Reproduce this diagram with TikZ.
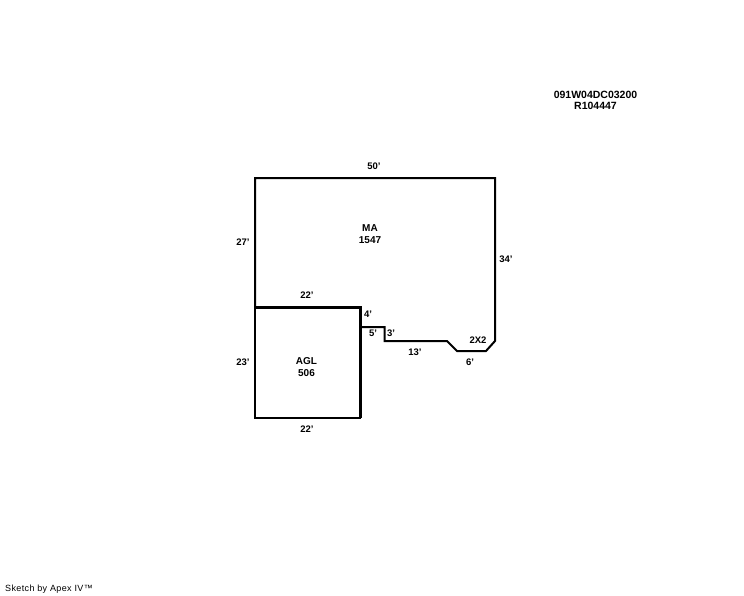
\documentclass[tikz,border=0pt]{standalone}
\usepackage{fontspec}
\setmainfont{Liberation Sans}
\newfontfamily\widefont[LetterSpace=4]{Liberation Sans}
\tikzset{
  dimlabel/.style={font=\bfseries\fontsize{9.5}{9.5}\selectfont, inner sep=0pt},
  arealabel/.style={font=\bfseries\fontsize{10}{12}\selectfont, inner sep=0pt, align=center},
  wall/.style={line width=2pt, line join=miter},
  heavywall/.style={line width=3pt, line cap=rect}
}
\begin{document}
\begin{tikzpicture}[x=1pt,y=-1pt]
  \useasboundingbox (0,0) rectangle (744,595);

  % Corners of the main area
  \coordinate (A) at (255,178);
  \coordinate (B) at (495,178);
  \coordinate (C) at (495,341);
  \coordinate (D) at (486,351);
  \coordinate (E) at (457,351);
  \coordinate (F) at (447,341);
  \coordinate (G) at (384.5,341);
  \coordinate (H) at (384.5,327);
  \coordinate (I) at (360.5,327);

  % Corners of the garage
  \coordinate (J) at (255,307.5);
  \coordinate (K) at (360.5,307.5);
  \coordinate (L) at (360.5,417.5);
  \coordinate (M) at (255,417.5);

  % Draw the outlines
  \draw[wall] (J) -- (A) -- (B) -- (C) -- (D) -- (E) -- (F) -- (G) -- (H) -- (I);
  \draw[wall] (J) -- (M) -- (L);
  \draw[line width=2.5pt] (L) -- (K);
  \draw[heavywall] (J) -- (K);

  % Area labels
  \node[arealabel] (ma) at (370,234) {MA\\1547};
  \node[arealabel] (agl) at (306.5,367.5) {AGL\\506};
  \node[dimlabel] (bump) at (478,340.5) {2X2};

  % Dimensions
  \node[dimlabel] (d50) at (374,166) {50'};
  \node[dimlabel] (d27) at (243,242) {27'};
  \node[dimlabel] (d34) at (506,259) {34'};
  \node[dimlabel] (d22a) at (307,295.5) {22'};
  \node[dimlabel] (d23) at (243,362.5) {23'};
  \node[dimlabel] (d22b) at (307,429) {22'};
  \node[dimlabel] (d4) at (368,314.5) {4'};
  \node[dimlabel] (d5) at (373,333) {5'};
  \node[dimlabel] (d3) at (391,333) {3'};
  \node[dimlabel] (d13) at (415,352) {13'};
  \node[dimlabel] (d6) at (470,362.5) {6'};

  % Parcel numbers
  \node[arealabel, font=\bfseries\fontsize{10.5}{11}\selectfont] (parcel) at (595.5,100.5) {091W04DC03200\\R104447};

  % Footer
  \node[inner sep=0pt, anchor=west, font=\widefont\fontsize{9}{9}\selectfont] (footer) at (5,589) {Sketch by Apex IV™};
\end{tikzpicture}
\end{document}
